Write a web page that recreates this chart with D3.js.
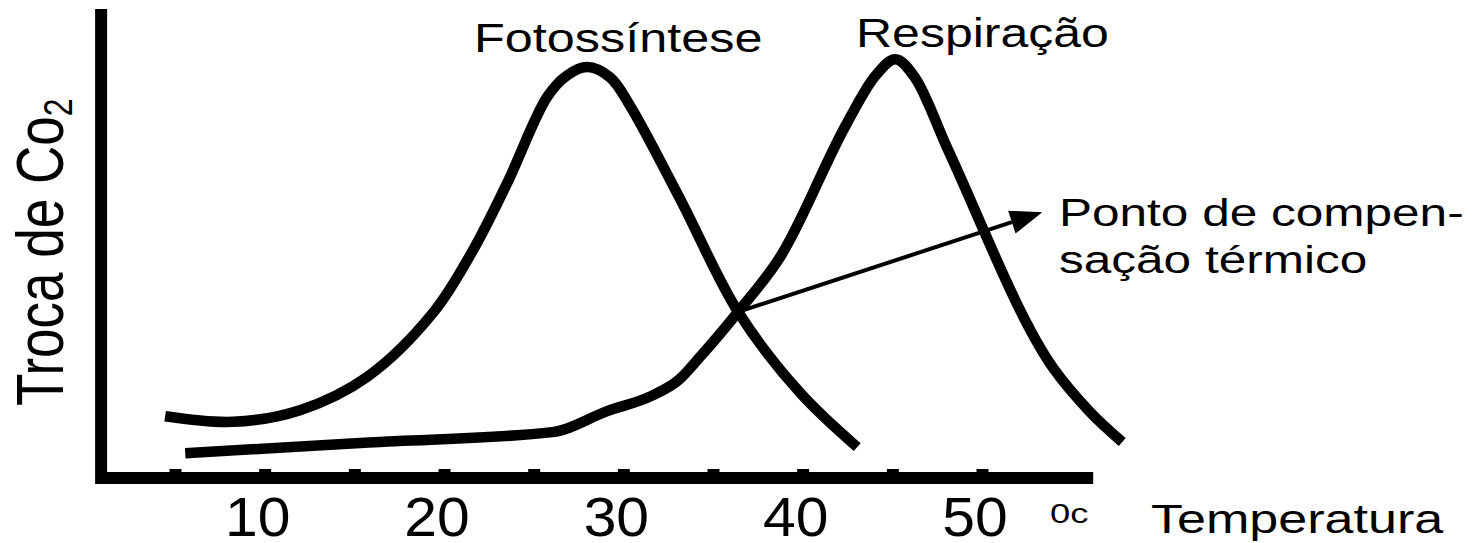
<!DOCTYPE html>
<html>
<head>
<meta charset="utf-8">
<script src="https://cdn.jsdelivr.net/npm/d3@7"></script>
<style>
  html, body { margin: 0; padding: 0; background: #fff; }
  svg { display: block; }
  text { font-family: "Liberation Sans", Arial, Helvetica, sans-serif; fill: #000; }
</style>
</head>
<body>
<svg id="chart" width="1481" height="543"></svg>
<script>
// Temperature (°C) and relative CO2 exchange for each process
const photoTemp = [4.45, 8.24, 11.97, 15.71, 19.39, 21.62, 23.52, 25.75, 26.86, 27.98, 29.26, 30.38, 33.17, 36.4, 39.86, 43.04];
const photoRate = [13.2, 12.0, 14.5, 21.6, 35.3, 48.7, 63.0, 81.4, 86.0, 87.8, 85.6, 79.5, 59.6, 35.5, 18.2, 6.6];

const respTemp = [5.57, 15.8, 26.03, 29.1, 31.6, 33.1, 34.28, 36.4, 38.74, 42.48, 44.05, 45.16, 46.27, 48.06, 53.97, 56.03, 57.82];
const respRate = [5.3, 7.6, 9.8, 14.3, 17.6, 21.0, 25.9, 35.5, 47.2, 75.9, 85.9, 89.5, 85.5, 70.5, 23.5, 14.1, 7.7];

// Axis ticks and labels
const tickTemps = [5, 10, 15, 20, 25, 30, 35, 40, 45, 50];
const labelTemps = [10, 20, 30, 40, 50];

// Thermal compensation point and where its pointer ends
const compPoint = [36.4, 35.5];
const pointerEnd = [53.36, 56.8];

const svg = d3.select("#chart");

const x = d3.scaleLinear().domain([5, 50]).range([175, 982]);
const y = d3.scaleLinear().domain([0, 100]).range([478, 10]);

const axisLeftX = x(0.88);
const axisRightX = x(56.2);
const axisTopY = y(100.2);

// L-shaped frame
svg.append("path")
  .attr("d", `M${axisLeftX},${axisTopY} V${y(0)} H${axisRightX}`)
  .attr("fill", "none")
  .attr("stroke", "#000")
  .attr("stroke-width", 12)
  .attr("stroke-linejoin", "miter");

// Small tick marks on top of the x axis
const xAxis = d3.axisBottom(x)
  .tickValues(tickTemps)
  .tickSizeInner(-6)
  .tickSizeOuter(0)
  .tickFormat("");
const gx = svg.append("g").attr("transform", `translate(0,${y(0) - 3})`).call(xAxis);
gx.select(".domain").remove();
gx.selectAll(".tick line").attr("stroke", "#000").attr("stroke-width", 12);

// Tick labels
svg.append("g").selectAll("text")
  .data(labelTemps)
  .join("text")
  .attr("transform", d => `translate(${x(d) - 7},536) scale(1.05,1)`)
  .attr("text-anchor", "middle")
  .attr("font-size", 56)
  .text(d => d);

svg.append("text")
  .attr("transform", "translate(1050,523) scale(1.3,1)")
  .attr("font-size", 28)
  .text("0c");

svg.append("text")
  .attr("transform", "translate(1151,533) scale(1.27,1)")
  .attr("font-size", 41)
  .text("Temperatura");

// Y axis title
const yTitle = svg.append("text")
  .attr("transform", "translate(63,406) scale(1.25,1) rotate(-90)")
  .attr("font-size", 53);
yTitle.append("tspan").text("Troca de Co");
yTitle.append("tspan").attr("font-size", 32).attr("dy", 7).text("2");

// Curves
const photoLine = d3.line()
  .x(d => x(d[0]))
  .y(d => y(d[1]))
  .curve(d3.curveCatmullRom.alpha(0.5));

const respLine = d3.line()
  .x(d => x(d[0]))
  .y(d => y(d[1]))
  .curve(d3.curveMonotoneX);

const photo = photoTemp.map((t, i) => [t, photoRate[i]]);
const resp = respTemp.map((t, i) => [t, respRate[i]]);

const curveStyle = sel => sel
  .attr("fill", "none")
  .attr("stroke", "#000")
  .attr("stroke-width", 10.5)
  .attr("stroke-linejoin", "round")
  .attr("stroke-linecap", "butt");

svg.append("path").datum(photo).attr("d", photoLine).call(curveStyle);
svg.append("path").datum(resp).attr("d", respLine).call(curveStyle);

// Curve titles
svg.append("text")
  .attr("transform", "translate(474,52) scale(1.26,1)")
  .attr("font-size", 40)
  .text("Fotossíntese");

svg.append("text")
  .attr("transform", "translate(856,47) scale(1.25,1)")
  .attr("font-size", 40)
  .text("Respiração");

// Pointer from the compensation point to its note
const x0 = x(compPoint[0]), y0 = y(compPoint[1]);
const x1 = x(pointerEnd[0]), y1 = y(pointerEnd[1]);
const ang = Math.atan2(y1 - y0, x1 - x0);
const headLen = 32, headHalf = 12;
const bx = x1 - headLen * Math.cos(ang), by = y1 - headLen * Math.sin(ang);

svg.append("line")
  .attr("x1", x0).attr("y1", y0)
  .attr("x2", bx).attr("y2", by)
  .attr("stroke", "#000")
  .attr("stroke-width", 4);

svg.append("path")
  .attr("d", `M${x1},${y1} L${bx + headHalf * Math.sin(ang)},${by - headHalf * Math.cos(ang)} L${bx - headHalf * Math.sin(ang)},${by + headHalf * Math.cos(ang)} Z`)
  .attr("fill", "#000");

const note = svg.append("g").attr("transform", "translate(1059,0)");
note.append("text")
  .attr("transform", "translate(0,226) scale(1.27,1)")
  .attr("font-size", 39)
  .text("Ponto de compen-");
note.append("text")
  .attr("transform", "translate(0,273) scale(1.27,1)")
  .attr("font-size", 39)
  .text("sação térmico");
</script>
</body>
</html>
